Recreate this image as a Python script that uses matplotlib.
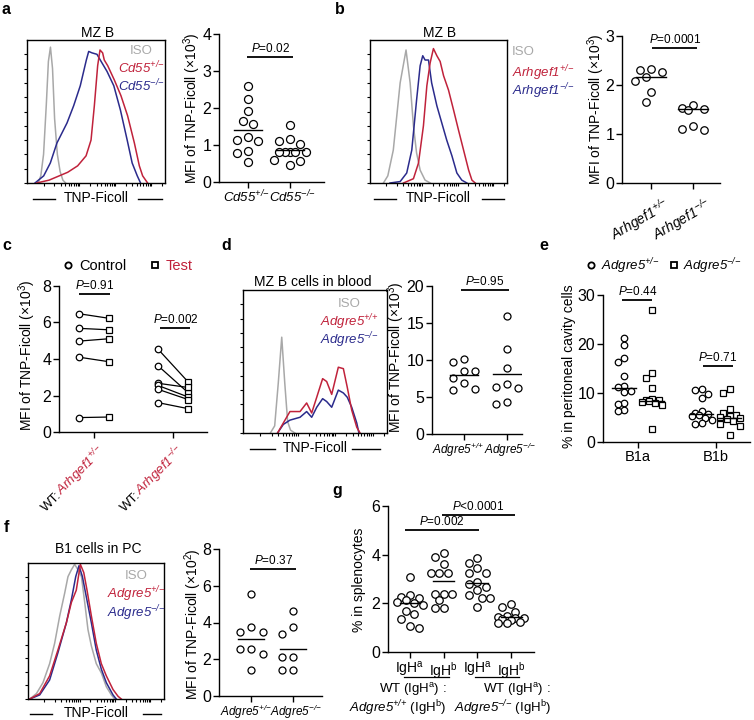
import numpy as np
import matplotlib
matplotlib.use("Agg")
import matplotlib.pyplot as plt
from matplotlib.lines import Line2D
from matplotlib import transforms

plt.rcParams["font.family"] = ["Liberation Sans", "DejaVu Sans"]
plt.rcParams["mathtext.fontset"] = "custom"
# mathtext is only used for italic gene names and superscripts; \mathsf gives upright
plt.rcParams["mathtext.rm"] = "Liberation Sans:italic"
plt.rcParams["mathtext.it"] = "Liberation Sans:italic"
plt.rcParams["mathtext.sf"] = "Liberation Sans"
plt.rcParams["mathtext.bf"] = "Liberation Sans:bold"
plt.rcParams["axes.linewidth"] = 1.0

W, H = 754, 720
RED = "#c0223b"
BLUE = "#2b2b8c"
GRAY = "#a8a8a8"

# ---- flow histograms: channel position (0-100 along axis), height (% of frame)
a_iso_x = [8, 10, 12, 14, 15.5, 17, 18.5, 20, 22, 24, 26, 28]
a_iso_y = [0, 5, 20, 55, 85, 95, 80, 45, 20, 8, 2, 0]
a_het_x = [7, 16, 29.5, 36.7, 42.8, 46.4, 48.8, 51.2, 52.9, 54.8, 56, 58.5, 63.3, 68.1, 72.9, 77.8, 81.4, 83.8, 87.4]
a_het_y = [0, 2, 7.5, 12, 19, 30, 54, 82, 93, 91, 86, 82, 72, 61, 47, 28, 12, 5, 0]
a_ko_x = [5.8, 12.1, 16.9, 21.7, 29, 33.8, 38.6, 43, 44.7, 47.1, 50.7, 53.1, 58, 62.9, 67.7, 72.6, 76.2, 79.9, 82.3]
a_ko_y = [0, 5, 14, 28, 42, 54, 68, 86, 92, 91, 90, 86, 78, 68, 51, 30, 14, 5, 0]

b_iso_x = [9.8, 13, 17, 22, 26.3, 29.3, 31.7, 34, 36.6, 40.2, 44]
b_iso_y = [0, 5, 23, 70, 93, 70, 40, 21, 9, 2, 0]
b_het_x = [24.4, 31.7, 35.4, 39, 41.5, 43.9, 46.3, 48.8, 51.2, 53.7, 57.3, 61, 64.6, 68.3, 72, 74.4, 76.8]
b_het_y = [0, 3, 14, 40, 68, 84, 94, 89, 85, 75, 65, 51, 37, 23, 9, 2, 0]
b_ko_x = [14.6, 22, 26.8, 30.5, 34, 36.6, 38.5, 40.2, 42.7, 45, 48.8, 52.4, 56, 59.8, 63.4, 67, 70.7]
b_ko_y = [0, 1, 7, 23, 58, 82, 89, 86, 86, 70, 54, 42, 30, 19, 7, 2, 0]

d_iso_x = [19, 22, 24.5, 26.9, 29, 31, 33, 36]
d_iso_y = [0, 5, 35, 67, 35, 8, 2, 0]
d_wt_x = [24, 28, 32.6, 39.6, 44.2, 47.7, 51.2, 55.3, 58.1, 61.6, 66.2, 69.7, 72.4, 75.5, 79, 81.3]
d_wt_y = [0, 7, 15, 15, 21, 14, 25, 38, 36, 27, 46, 45, 32, 16, 4, 0]
d_ko_x = [24, 28, 32.6, 39.6, 44.2, 47.7, 51.2, 55.3, 58.1, 61.6, 66.2, 69.7, 72.4, 75.5, 79, 80.5]
d_ko_y = [0, 6, 9, 11, 15, 11, 18, 24, 22, 18, 30, 28, 25, 18, 7, 0]

f_iso_x = [1.3, 6.2, 11, 15.9, 19.6, 23.3, 27, 29.4, 31.9, 34.3, 36.8, 39.3, 41.7, 44.1, 46.6, 50.2, 54, 57.6, 61.3, 63.8]
f_iso_y = [0, 4, 12, 26, 41, 61, 78, 90, 95, 99, 95, 90, 71, 51, 39, 26, 19, 9, 3, 0]
f_het_x = [1.3, 8.6, 15.9, 22, 28.2, 31.9, 35.5, 38.5, 41, 43.4, 46.6, 50.2, 53.9, 57.6, 62.5, 66.2, 68.6]
f_het_y = [0, 4, 17, 36, 56, 71, 80, 99, 93, 80, 61, 41, 26, 17, 7, 2, 0]
f_ko_x = [1.3, 8.6, 15.9, 22, 28.2, 31.9, 35.1, 37.5, 40, 42.9, 46.6, 50.2, 53.9, 57.6, 62.5, 64.9]
f_ko_y = [0, 3, 14, 34, 56, 73, 90, 98, 90, 75, 56, 36, 22, 12, 3, 0]

# ---- dot plots
a_het = [2.59, 2.25, 1.91, 1.56, 1.64, 1.21, 1.12, 1.13, 0.84, 0.79, 0.53]
a_ko = [1.55, 1.12, 1.15, 1.03, 0.82, 0.80, 0.80, 0.80, 0.82, 0.60, 0.57, 0.45]
a_lines = [1.41, 0.86]

b_het = [2.27, 2.33, 2.31, 2.17, 2.08, 1.85, 1.65]
b_ko = [1.53, 1.60, 1.51, 1.48, 1.11, 1.17, 1.09]
b_lines = [2.17, 1.51]

c_het_ctrl = [6.48, 5.68, 4.98, 4.10, 0.79]
c_het_test = [6.23, 5.60, 5.11, 3.85, 0.82]
c_ko_ctrl = [4.54, 3.63, 2.67, 2.55, 2.34, 1.61]
c_ko_test = [2.75, 2.16, 2.44, 1.92, 1.78, 1.28]

d_wt = [9.77, 10.1, 8.56, 8.56, 6.94, 7.52, 5.95, 6.13]
d_ko = [16.0, 11.5, 8.87, 6.4, 6.7, 6.26, 4.05, 4.37]
d_lines = [7.97, 8.06]

e_b1a_het = [21.3, 19.8, 17.2, 16.3, 13.5, 11.5, 11.2, 10.5, 10.3, 8.0, 7.7, 6.6, 6.3]
e_b1a_ko = [27.0, 14.0, 13.0, 11.1, 8.7, 8.6, 8.5, 8.4, 8.2, 8.0, 7.6, 2.7]
e_b1b_het = [10.8, 10.6, 9.8, 8.9, 6.3, 6.0, 5.8, 5.6, 5.4, 5.0, 4.5, 3.8, 3.6]
e_b1b_ko = [10.9, 9.9, 6.7, 5.9, 5.6, 5.3, 5.1, 4.8, 4.6, 4.2, 3.6, 3.3, 1.5]
e_lines = [11.0, 8.4, 5.8, 5.0]

f_het = [5.53, 3.76, 3.49, 3.49, 2.56, 2.31, 2.55, 1.40]
f_ko = [4.62, 3.77, 3.35, 2.13, 2.13, 1.44, 1.44]
f_lines = [3.11, 2.55]

g_wt_a = [3.1, 2.35, 2.25, 2.2, 2.15, 2.05, 2.0, 1.95, 1.7, 1.55, 1.35, 1.05, 1.0]
g_wt_b = [4.05, 3.9, 3.6, 3.25, 3.25, 3.25, 2.4, 2.4, 2.4, 2.15, 1.8, 1.8]
g_ko_a = [3.87, 3.67, 3.44, 3.23, 3.23, 2.88, 2.79, 2.68, 2.54, 2.35, 2.2, 2.2, 1.85]
g_ko_b = [1.96, 1.85, 1.65, 1.5, 1.45, 1.4, 1.38, 1.35, 1.3, 1.25, 1.2, 1.18]
g_lines = [2.02, 2.91, 2.82, 1.44]


def gt(gene, sup):
    # braces keep + and - as plain symbols (no operator spacing)
    sup = sup.replace("+", "{+}").replace("-", "{-}")
    return r"$%s^{%s}$" % (gene, sup)


def up(s):
    return r"$^{\mathsf{%s}}$" % s


fig = plt.figure(figsize=(W / 100, H / 100), dpi=100)


def add_ax(l, t, r, b):
    return fig.add_axes([l / W, 1 - b / H, (r - l) / W, (b - t) / H])


def ftext(x, y, s, **kw):
    kw.setdefault("ha", "center")
    kw.setdefault("va", "center")
    return fig.text(x / W, 1 - y / H, s, **kw)


def fline(x1, x2, y, lw=1.0):
    fig.add_artist(Line2D([x1 / W, x2 / W], [1 - y / H] * 2, transform=fig.transFigure, color="k", lw=lw))


def hist_panel(box, curves, title, title_xy, legend, leg_x, leg_ys, leg_ha, xl_y, xl_lines):
    ax = add_ax(*box)
    for xs, ys, col in curves:
        ax.plot(xs, ys, color=col, lw=1.1)
    ax.set_xlim(0, 100)
    ax.set_ylim(0, 100)
    ax.set_yticks(np.arange(0, 100, 10))
    ticks = [12 + 26 * (d + np.log10(k)) for d in range(4) for k in range(1, 10)]
    ax.set_xticks([t for t in ticks if t < 99])
    ax.set_xticklabels([])
    ax.set_yticklabels([])
    ax.tick_params(length=2.5, width=0.8)
    ftext(*title_xy, title, fontsize=10)
    for (s, c), y in zip(legend, leg_ys):
        ftext(leg_x, y, s, color=c, fontsize=9.5, ha=leg_ha)
    cx = (box[0] + box[2]) / 2
    ftext(cx, xl_y, "TNP-Ficoll", fontsize=10)
    for x1, x2 in xl_lines:
        fline(x1, x2, xl_y + 1)
    return ax


def swarm(ax, xc, vals, sep, max_off):
    t = ax.transData
    p = t.transform([(xc, 0), (xc + 1, 0)])
    sx = p[1, 0] - p[0, 0]
    ys = t.transform(np.column_stack([np.full(len(vals), xc), vals]))[:, 1]
    cands = [0.0]
    k = 1
    while k * sep / 2 <= max_off:
        cands += [-k * sep / 2, k * sep / 2]
        k += 1
    placed = []
    offs = np.zeros(len(vals))
    for i in np.argsort(vals)[::-1]:
        best, best_d = 0.0, -1.0
        for c in cands:
            d = min((np.hypot(c - ox, ys[i] - oy) for ox, oy in placed), default=1e9)
            if d >= sep:
                best = c
                break
            if d > best_d:
                best, best_d = c, d
        offs[i] = best
        placed.append((best, ys[i]))
    return xc + offs / sx


def dot_axes(box, ylim, yticks, xlim, xticks):
    ax = add_ax(*box)
    ax.set_xlim(*xlim)
    ax.set_ylim(*ylim)
    for s in ("top", "right"):
        ax.spines[s].set_visible(False)
    ax.set_yticks(yticks)
    ax.set_xticks(xticks)
    ax.tick_params(length=4, width=1, labelsize=11.5, pad=1.5)
    return ax


def dots(ax, xc, vals, center, half, marker="o", ms_px=8, sep=10.5, max_off=18):
    xs = swarm(ax, xc, vals, sep, max_off)
    ax.plot(xs, vals, ls="none", marker=marker, ms=ms_px * 0.72, mfc="white", mec="k",
            mew=0.9, clip_on=False, zorder=3)
    ax.plot([xc - half, xc + half], [center, center], color="k", lw=1, zorder=4)


def pbar(ax, x1, x2, y, s, fs=8.5):
    ax.plot([x1, x2], [y, y], color="k", lw=1.3, clip_on=False, solid_capstyle="butt")
    ax.annotate(s, ((x1 + x2) / 2, y), xytext=(0, 2), textcoords="offset pixels",
                ha="center", va="bottom", fontsize=fs, annotation_clip=False)


def spread_labels(ax, shifts_px):
    # nudge the two crowded tick labels apart, as in the reference
    for lab, dx in zip(ax.get_xticklabels(), shifts_px):
        lab.set_transform(lab.get_transform() + transforms.ScaledTranslation(dx / 100, 0.01, fig.dpi_scale_trans))


P = r"$P$"
MFI3 = "MFI of TNP-Ficoll (×10" + up("3") + ")"
XFS = 8.5

# ---------------- panel a
hist_panel((27, 40, 165, 183),
           [(a_iso_x, a_iso_y, GRAY), (a_ko_x, a_ko_y, BLUE), (a_het_x, a_het_y, RED)],
           "MZ B", (98, 33),
           [("ISO", GRAY), (gt("Cd55", "+/-"), RED), (gt("Cd55", "-/-"), BLUE)],
           141, [51, 68, 86], "center", 198, [(33, 55), (138, 162)])
ax = dot_axes((219, 34, 324, 182), (0, 4), range(5), (0.31, 2.81), [1, 2])
dots(ax, 1, a_het, a_lines[0], 0.33)
dots(ax, 2, a_ko, a_lines[1], 0.33)
ax.set_xticklabels([gt("Cd55", "+/-"), gt("Cd55", "-/-")], fontsize=9.5)
spread_labels(ax, [-2, 2])
pbar(ax, 0.98, 2.07, 3.38, P + "=0.02")
ftext(192, 108, MFI3, rotation=90, fontsize=10)

# ---------------- panel b
hist_panel((370, 40, 507, 183),
           [(b_iso_x, b_iso_y, GRAY), (b_ko_x, b_ko_y, BLUE), (b_het_x, b_het_y, RED)],
           "MZ B", (440, 33),
           [("ISO", GRAY), (gt("Arhgef1", "+/-"), RED), (gt("Arhgef1", "-/-"), BLUE)],
           512, [52, 73, 91], "left", 198, [(374, 396), (482, 504)])
ax = dot_axes((622, 36, 720, 183), (0, 3), range(4), (0.31, 2.64), [1, 2])
dots(ax, 1, b_het, b_lines[0], 0.36, ms_px=7.5, sep=11)
dots(ax, 2, b_ko, b_lines[1], 0.36, ms_px=7.5, sep=11)
ax.set_xticklabels([gt("Arhgef1", "+/-"), gt("Arhgef1", "-/-")], fontsize=10,
                   rotation=30, ha="right", rotation_mode="anchor")
for lab in ax.get_xticklabels():
    lab.set_transform(lab.get_transform() + transforms.ScaledTranslation(0.12, -0.04, fig.dpi_scale_trans))
pbar(ax, 1.02, 2.1, 2.76, P + "=0.0001")
ftext(596, 109, MFI3, rotation=90, fontsize=10)

# ---------------- panel c
ax = dot_axes((59, 286, 207, 432), (0, 8), range(0, 9, 2), (0.557, 2.43), [1, 2])
ax.set_xticklabels([])
for xc, ctrl, test in ((1, c_het_ctrl, c_het_test), (2, c_ko_ctrl, c_ko_test)):
    for v0, v1 in zip(ctrl, test):
        ax.plot([xc - 0.19, xc + 0.19], [v0, v1], color="k", lw=0.9, zorder=2)
    ax.plot([xc - 0.19] * len(ctrl), ctrl, ls="none", marker="o", ms=6.5 * 0.72,
            mfc="white", mec="k", mew=0.9, zorder=3)
    ax.plot([xc + 0.19] * len(test), test, ls="none", marker="s", ms=6 * 0.72,
            mfc="white", mec="k", mew=0.9, zorder=3)
pbar(ax, 0.81, 1.2, 7.55, P + "=0.91")
pbar(ax, 1.84, 2.22, 5.71, P + "=0.002")
ftext(27, 355, MFI3, rotation=90, fontsize=10)
fig.canvas.draw()
rend = fig.canvas.get_renderer()
for xc, sup in ((1, "+/-"), (2, "-/-")):
    red_s = gt("Arhgef1", sup)
    tmp = fig.text(0, 0, red_s, fontsize=9.5)
    w = tmp.get_window_extent(rend).width
    tmp.remove()
    base = ax.get_xaxis_transform()
    tr = transforms.offset_copy(base, fig=fig, x=12, y=-20, units="dots")
    ax.text(xc, 0, red_s, rotation=45, rotation_mode="anchor", ha="right", va="baseline",
            color=RED, fontsize=9.5, transform=tr)
    c45 = np.cos(np.radians(45))
    tr2 = transforms.offset_copy(base, fig=fig, x=12 - w * c45, y=-20 - w * c45, units="dots")
    ax.text(xc, 0, "WT:", rotation=45, rotation_mode="anchor", ha="right", va="baseline",
            color="k", fontsize=9.5, transform=tr2)
hc = [Line2D([], [], ls="none", marker="o", ms=4.5, mfc="white", mec="k", mew=1.3),
      Line2D([], [], ls="none", marker="s", ms=4.5, mfc="white", mec="k", mew=1.3)]
leg = fig.legend(hc, ["Control", "Test"], ncol=2, frameon=False, loc="center left",
                 bbox_to_anchor=(62 / W, 1 - 266 / H), handletextpad=0.35, columnspacing=1.6,
                 handlelength=0.8, fontsize=10.5, borderaxespad=0, borderpad=0)
leg.get_texts()[1].set_color(RED)

# ---------------- panel d
hist_panel((243, 290, 387, 433),
           [(d_iso_x, d_iso_y, GRAY), (d_ko_x, d_ko_y, BLUE), (d_wt_x, d_wt_y, RED)],
           "MZ B cells in blood", (313, 282),
           [("ISO", GRAY), (gt("Adgre5", "+/+"), RED), (gt("Adgre5", "-/-"), BLUE)],
           349, [304, 322, 340], "center", 448, [(250, 275), (352, 380)])
ax = dot_axes((432, 286, 522, 434), (0, 20), range(0, 21, 5), (0.256, 2.35), [1, 2])
dots(ax, 1, d_wt, d_lines[0], 0.33, ms_px=7, sep=11, max_off=12)
dots(ax, 2, d_ko, d_lines[1], 0.33, ms_px=7, sep=11, max_off=12)
ax.set_xticklabels([gt("Adgre5", "+/+"), gt("Adgre5", "-/-")], fontsize=XFS)
spread_labels(ax, [-6, 3])
pbar(ax, 0.92, 2.04, 19.45, P + "=0.95")
ftext(396, 357, MFI3, rotation=90, fontsize=10)

# ---------------- panel e
ax = dot_axes((603, 295, 750, 442), (0, 30), range(0, 31, 10), (0.55, 2.44), [1, 2])
ax.set_xticklabels(["B1a", "B1b"], fontsize=10.5)
groups_e = [(1 - 0.18, e_b1a_het, "o"), (1 + 0.18, e_b1a_ko, "s"),
            (2 - 0.18, e_b1b_het, "o"), (2 + 0.18, e_b1b_ko, "s")]
for (xc, vals, m), ln in zip(groups_e, e_lines):
    dots(ax, xc, vals, ln, 0.15, marker=m, ms_px=6.5, sep=6.5, max_off=10)
pbar(ax, 0.8, 1.18, 29.0, P + "=0.44")
pbar(ax, 1.83, 2.22, 15.5, P + "=0.71")
ftext(569, 366, "% in peritoneal cavity cells", rotation=90, fontsize=10)
he = [Line2D([], [], ls="none", marker="o", ms=4.5, mfc="white", mec="k", mew=1.3),
      Line2D([], [], ls="none", marker="s", ms=4.5, mfc="white", mec="k", mew=1.3)]
fig.legend(he, [gt("Adgre5", "+/-"), gt("Adgre5", "-/-")], ncol=2, frameon=False,
           loc="center left", bbox_to_anchor=(586 / W, 1 - 266 / H), handletextpad=0.3,
           columnspacing=0.7, handlelength=0.8, fontsize=9.5, borderaxespad=0, borderpad=0)

# ---------------- panel f
hist_panel((28, 563, 164, 699),
           [(f_iso_x, f_iso_y, GRAY), (f_ko_x, f_ko_y, BLUE), (f_het_x, f_het_y, RED)],
           "B1 cells in PC", (98, 549),
           [("ISO", GRAY), (gt("Adgre5", "+/-"), RED), (gt("Adgre5", "-/-"), BLUE)],
           136, [576, 594, 613], "center", 713, [(30, 52), (143, 161)])
ax = dot_axes((219, 549, 322, 696), (0, 8), range(0, 9, 2), (0.238, 2.69), [1, 2])
dots(ax, 1, f_het, f_lines[0], 0.32, ms_px=7, sep=11.5, max_off=12)
dots(ax, 2, f_ko, f_lines[1], 0.32, ms_px=7, sep=11.5, max_off=12)
ax.set_xticklabels([gt("Adgre5", "+/-"), gt("Adgre5", "-/-")], fontsize=XFS)
spread_labels(ax, [-5, 3])
pbar(ax, 0.98, 2.07, 6.9, P + "=0.37")
ftext(193, 624, "MFI of TNP-Ficoll (×10" + up("2") + ")", rotation=90, fontsize=10)

# ---------------- panel g
ax = dot_axes((388, 506, 534, 652), (0, 6), range(0, 7, 2), (0.347, 4.68), [1, 2, 3, 4])
ax.set_xticklabels(["IgH" + up("a"), "IgH" + up("b")] * 2, fontsize=10)
for xc, vals, ln in zip([1, 2, 3, 4], [g_wt_a, g_wt_b, g_ko_a, g_ko_b], g_lines):
    dots(ax, xc, vals, ln, 0.31, ms_px=7.5, sep=8.7, max_off=14)
pbar(ax, 0.85, 3.05, 5.01, P + "=0.002")
pbar(ax, 1.95, 4.12, 5.63, P + "<0.0001")
ftext(359, 580, "% in splenocytes", rotation=90, fontsize=10)
fline(404, 449, 677, lw=0.9)
fline(475, 519, 677, lw=0.9)
ftext(413, 690, "WT (IgH" + up("a") + ") :", fontsize=9.5)
ftext(398, 708, gt("Adgre5", "+/+") + " (IgH" + up("b") + ")", fontsize=9.5)
ftext(517, 690, "WT (IgH" + up("a") + ") :", fontsize=9.5)
ftext(503, 708, gt("Adgre5", "-/-") + " (IgH" + up("b") + ")", fontsize=9.5)

# ---------------- panel letters
for s, x, y in (("a", 6, 9), ("b", 340, 9), ("c", 7, 245), ("d", 226, 245),
                ("e", 544, 246), ("f", 6, 528), ("g", 337, 490)):
    ftext(x, y, s, fontsize=11.5, fontweight="bold")

fig.savefig("out.png", dpi=100)
